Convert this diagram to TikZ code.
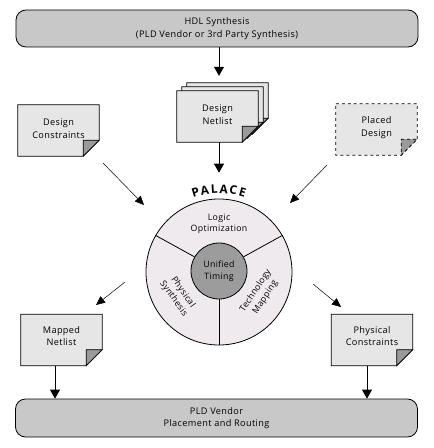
\documentclass[tikz,border=0pt]{standalone}
\usepackage{fontspec}
\setmainfont{Open Sans}[LetterSpace=4]
\newfontfamily\palfont{Open Sans}[LetterSpace=0]
\usetikzlibrary{arrows.meta,calc}
\definecolor{boxgray}{HTML}{C8C8C8}
\definecolor{sheetgray}{HTML}{E6E6E6}
\definecolor{foldgray}{HTML}{9A9A9A}
\definecolor{ringgray}{HTML}{EEEAEE}
\definecolor{coregray}{HTML}{9C9C9C}
\newcommand\docpage[2]{%
  \draw[sheetline,fill=sheetgray,#2] (#1.north west) -- (#1.north east) -- ([yshift=16bp]#1.south east) -- ([xshift=-16bp]#1.south east) -- (#1.south west) -- cycle;
  \draw[sheetline,fill=foldgray,#2] ([xshift=-16bp,yshift=16bp]#1.south east) -- ([yshift=16bp]#1.south east) -- ([xshift=-16bp]#1.south east) -- cycle;}
\begin{document}
\begin{tikzpicture}[x=1bp,y=-1bp,
  every node/.style={font=\fontsize{9.2}{12.5}\selectfont, align=center, inner sep=0pt},
  sheetline/.style={line width=0.8bp, black},
  bigbox/.style={draw, line width=0.8bp, fill=boxgray, rounded corners=10bp, minimum width=402bp, minimum height=37bp},
  sheet/.style={minimum width=81bp, minimum height=51bp},
  flow/.style={line width=0.8bp, -{Triangle[width=10bp,length=9bp]}},
  thin/.style={line width=0.5bp, -{Triangle[width=8bp,length=9bp]}},
  ringlabel/.style={font=\fontsize{8.8}{11.5}\selectfont}]
\useasboundingbox (0,0) rectangle (434,448);
% top and bottom boxes
\node[bigbox] (hdl) at (217,28.5) {HDL Synthesis\\(PLD Vendor or 3rd Party Synthesis)};
\node[bigbox, minimum height=38bp] (pr) at (216.5,418) {PLD Vendor\\Placement and Routing};
% design netlist stack
\node[sheet] (nl3) at (227.5,108.5) {};
\node[sheet] (nl2) at (222.5,112.5) {};
\node[sheet] (nl) at (217.5,116.5) {};
\docpage{nl3}{}
\docpage{nl2}{}
\docpage{nl}{}
\node (nltext) at ([yshift=2bp]nl.center) {Design\\Netlist};
% other sheets
\node[sheet] (dc) at (58.5,130.5) {};
\docpage{dc}{}
\node (dctext) at ([yshift=2bp]dc.center) {Design\\Constraints};
\node[sheet] (pd) at (376.5,129.5) {};
\docpage{pd}{dashed}
\node (pdtext) at ([yshift=2bp]pd.center) {Placed\\Design};
\node[sheet] (mn) at (61.5,340) {};
\docpage{mn}{}
\node (mntext) at ([yshift=4bp]mn.center) {Mapped\\Netlist};
\node[sheet] (pc) at (372,340) {};
\docpage{pc}{}
\node (pctext) at ([yshift=4bp]pc.center) {Physical\\Constraints};
% PALACE wheel
\node[circle, draw, line width=0.8bp, fill=ringgray, minimum size=146bp] (palace) at (219,272) {};
\node[circle, draw, line width=0.8bp, fill=coregray, minimum size=56bp] (timing) at (219,271) {};
\draw[line width=0.8bp] (timing.30) -- (palace.30);
\draw[line width=0.8bp] (timing.150) -- (palace.150);
\draw[line width=0.8bp] (timing.270) -- (palace.270);
\node[ringlabel] (unified) at (timing) {Unified\\Timing};
\node[ringlabel] (logic) at ($(palace.center)+(90:48bp)$) {Logic\\Optimization};
\node[ringlabel, rotate=-55] (phys) at ($(palace.center)+(210:47bp)$) {Physical\\Synthesis};
\node[ringlabel, rotate=57] (tech) at ($(palace.center)+(332:47bp)$) {Technology\\Mapping};
\foreach \L [count=\i] in {P,A,L,A,C,E}{
  \pgfmathsetmacro\ang{106.5-6.6*(\i-1)}
  \node[font=\palfont\fontsize{12}{13}\selectfont\bfseries, rotate=\ang-90] (pal\i) at ($(palace.center)+(\ang:83bp)$) {\L};
}
% connectors
\coordinate (dcs) at (103,163);
\coordinate (dct) at (144,205);
\coordinate (pds) at (327,165);
\coordinate (pdt) at (290,203);
\coordinate (mns) at (125,282);
\coordinate (mnt) at (96,305);
\coordinate (pcs) at (313,284);
\coordinate (pct) at (341,307);
\draw[flow, shorten >=7bp] (hdl.south -| nl) ++(1.5bp,0) coordinate (hdlo) -- (hdlo |- nl3.north);
\draw[flow, shorten >=12bp] (nl.south) ++(1.5bp,0) coordinate (nlo) -- (nlo |- pal3.north);
\draw[thin] (dcs) -- (dct);
\draw[thin] (pds) -- (pdt);
\draw[thin] (mns) -- (mnt);
\draw[thin] (pcs) -- (pct);
\draw[flow] (mn.south -| 55,0) -- (pr.north -| 55,0);
\draw[flow] (pc.south -| 367,0) -- (pr.north -| 367,0);
\end{tikzpicture}
\end{document}
